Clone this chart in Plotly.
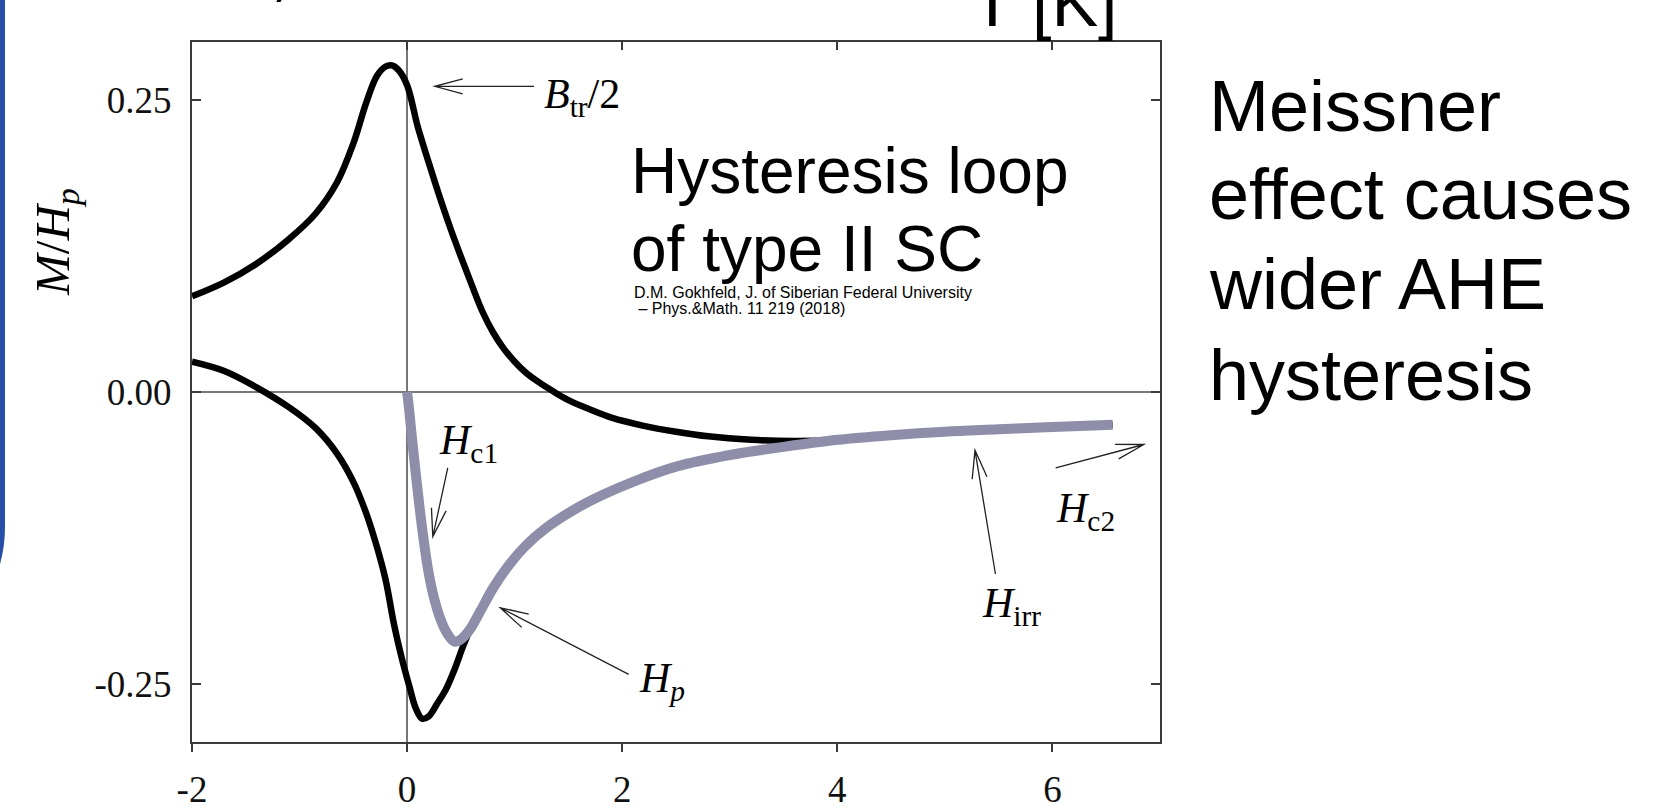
import math
import plotly.graph_objects as go

# ---------------- data ----------------
x_tick_vals = [-2, 0, 2, 4, 6]
x_tick_text = ["-2", "0", "2", "4", "6"]
y_tick_vals = [-0.25, 0.0, 0.25]
y_tick_text = ["-0.25", "0.00", "0.25"]

# descending branch (upper black curve)
h_desc = [-2.0, -1.7, -1.4, -1.1, -0.85, -0.65, -0.5, -0.38, -0.28, -0.2, -0.14, -0.08, 0.0, 0.1, 0.2,
          0.3, 0.4, 0.5, 0.6, 0.7, 0.8, 0.9, 1.0, 1.1, 1.2, 1.35, 1.5, 1.7, 1.9, 2.2, 2.5, 2.8, 3.2, 3.6,
          4.0, 4.5, 5.0, 5.5, 6.0, 6.56]
m_desc = [0.082, 0.094, 0.110, 0.131, 0.153, 0.180, 0.213, 0.248, 0.271, 0.279, 0.280, 0.276, 0.263,
          0.227, 0.197, 0.168, 0.141, 0.116, 0.092, 0.069, 0.051, 0.037, 0.026, 0.017, 0.010, 0.001,
          -0.007, -0.015, -0.022, -0.029, -0.034, -0.038, -0.041, -0.042, -0.041, -0.037, -0.034,
          -0.032, -0.030, -0.028]

# ascending branch (lower black curve)
h_asc = [-2.0, -1.7, -1.4, -1.1, -0.85, -0.65, -0.5, -0.38, -0.28, -0.2, -0.12, -0.05, 0.02, 0.08,
         0.14, 0.2, 0.28, 0.36, 0.44, 0.52, 0.62]
m_asc = [0.026, 0.018, 0.004, -0.013, -0.031, -0.053, -0.077, -0.104, -0.133, -0.161, -0.200, -0.228,
         -0.252, -0.271, -0.280, -0.278, -0.267, -0.255, -0.238, -0.218, -0.196]

# virgin magnetisation curve (grey)
h_virgin = [0.0, 0.02, 0.05, 0.09, 0.14, 0.2, 0.26, 0.32, 0.38, 0.44, 0.5, 0.58, 0.68, 0.8, 0.95, 1.1,
            1.3, 1.55, 1.8, 2.1, 2.5, 3.0, 3.5, 4.0, 4.5, 5.0, 5.5, 6.0, 6.56]
m_virgin = [0.0, -0.016, -0.044, -0.078, -0.117, -0.155, -0.180, -0.197, -0.208, -0.214, -0.212,
            -0.204, -0.188, -0.168, -0.148, -0.132, -0.116, -0.101, -0.089, -0.077, -0.064, -0.054,
            -0.047, -0.041, -0.037, -0.034, -0.032, -0.030, -0.028]

# annotation arrows: (tail, head) in data units
arrow_btr = ((1.18, 0.262), (0.257, 0.262))
arrow_hc1 = ((0.378, -0.065), (0.239, -0.124))
arrow_hp = ((2.06, -0.242), (0.867, -0.185))
arrow_hirr = ((5.47, -0.156), (5.28, -0.050))
arrow_hc2 = ((6.03, -0.065), (6.85, -0.045))

# ---------------- layout geometry ----------------
W, H = 1654, 810
L, R, T, B = 192, 1160, 42, 742
XR = [-2, 7]
YR = [-0.3, 0.3]

SERIF = "Liberation Serif, Times New Roman, serif"
SANS = "Liberation Sans, Arial, sans-serif"
AXC = "#3a3a3a"


def d2p(x, y):
    return (L + (x - XR[0]) / (XR[1] - XR[0]) * (R - L),
            B - (y - YR[0]) / (YR[1] - YR[0]) * (B - T))


def p2d(px, py):
    return (XR[0] + (px - L) / (R - L) * (XR[1] - XR[0]),
            YR[0] + (B - py) / (B - T) * (YR[1] - YR[0]))


def pap(px, py):
    return (px - L) / (R - L), (B - py) / (B - T)


fig = go.Figure()

fig.add_trace(go.Scatter(x=h_desc, y=m_desc, mode="lines",
                         line=dict(color="black", width=6.5, shape="spline", smoothing=1.0),
                         hoverinfo="skip", showlegend=False))
fig.add_trace(go.Scatter(x=h_asc, y=m_asc, mode="lines",
                         line=dict(color="black", width=6.5, shape="spline", smoothing=1.0),
                         hoverinfo="skip", showlegend=False))
fig.add_trace(go.Scatter(x=h_virgin, y=m_virgin, mode="lines",
                         line=dict(color="#8e8eaa", width=10, shape="spline", smoothing=1.0),
                         hoverinfo="skip", showlegend=False))
# empty trace so the top (mirror) axis exists
fig.add_trace(go.Scatter(x=[], y=[], xaxis="x2", showlegend=False, hoverinfo="skip"))

shapes = []


def arrow_shape(tail, head, length=29, half_angle=15):
    tx, ty = d2p(*tail)
    hx, hy = d2p(*head)
    dx, dy = hx - tx, hy - ty
    n = math.hypot(dx, dy)
    ux, uy = dx / n, dy / n
    pts = []
    for s in (1, -1):
        a = math.radians(half_angle) * s
        rx = ux * math.cos(a) - uy * math.sin(a)
        ry = ux * math.sin(a) + uy * math.cos(a)
        pts.append(p2d(hx - length * rx, hy - length * ry))
    (b1x, b1y), (b2x, b2y) = pts
    path = (f"M {tail[0]},{tail[1]} L {head[0]},{head[1]} "
            f"M {b1x},{b1y} L {head[0]},{head[1]} L {b2x},{b2y}")
    return dict(type="path", xref="x", yref="y", path=path,
                line=dict(color="#222", width=1.3), layer="above")


for a in (arrow_btr, arrow_hc1, arrow_hp, arrow_hirr, arrow_hc2):
    shapes.append(arrow_shape(*a))


# blue panel edge on the far left (part of the slide)
def pp(px, py):
    x, y = pap(px, py)
    return f"{x},{y}"


blue_path = ("M " + pp(-60, -20) + " L " + pp(5, -20) + " L " + pp(5, 527) +
             " C " + pp(5, 600) + " " + pp(-50, 659) + " " + pp(-127, 659) +
             " L " + pp(-200, 659) + " Z")
shapes.append(dict(type="path", xref="paper", yref="paper", path=blue_path,
                   fillcolor="#284fa7", line=dict(width=0), layer="above"))

annotations = []


def text_ann(text, left_px, center_px, size, family, color="black", angle=0, xanchor="left"):
    x, y = pap(left_px, center_px)
    return dict(text=text, x=x, y=y, xref="paper", yref="paper", xanchor=xanchor, yanchor="middle",
                showarrow=False, textangle=angle, font=dict(family=family, size=size, color=color))


# slide texts
annotations.append(text_ann("T [K]", 969, 2, 70, SANS))
annotations.append(text_ann(",", 268, -31, 70, SANS))
annotations.append(text_ann("Hysteresis loop", 629, 171, 64, SANS))
annotations.append(text_ann("of type II SC", 629, 249, 64, SANS))
annotations.append(text_ann("D.M. Gokhfeld, J. of Siberian Federal University", 632, 292, 16, SANS))
annotations.append(text_ann(" \u2013 Phys.&amp;Math. 11 219 (2018)", 632, 308, 16, SANS))
for txt, c in (("Meissner", 106), ("effect causes", 194), ("wider AHE", 284), ("hysteresis", 375)):
    annotations.append(text_ann(txt, 1207, c, 72, SANS))

# physics labels
annotations.append(text_ann("<i>B</i><sub>tr</sub>/2", 542, 97, 42, SERIF))
annotations.append(text_ann("<i>H</i><sub>c1</sub>", 437, 443, 42, SERIF))
annotations.append(text_ann("<i>H<sub>p</sub></i>", 637, 681, 42, SERIF))
annotations.append(text_ann("<i>H</i><sub>irr</sub>", 980, 606, 42, SERIF))
annotations.append(text_ann("<i>H</i><sub>c2</sub>", 1054, 511, 42, SERIF))

# y-axis title
annotations.append(text_ann("<i>M</i>/<i>H<sub>p</sub></i>", 55, 242, 49, SERIF, angle=-90, xanchor="center"))

fig.update_layout(
    width=W, height=H,
    margin=dict(l=L, r=W - R, t=T, b=H - B, pad=0, autoexpand=False),
    paper_bgcolor="white", plot_bgcolor="white",
    showlegend=False,
    shapes=shapes,
    annotations=annotations,
    xaxis=dict(range=XR, tickvals=x_tick_vals, ticktext=x_tick_text, ticks="outside", ticklen=8,
               tickwidth=2, tickcolor=AXC, showline=True, linecolor=AXC, linewidth=2, mirror=False,
               zeroline=True, zerolinecolor="#777", zerolinewidth=1.5, showgrid=False, automargin=False,
               tickfont=dict(family=SERIF, size=37, color="#111"), ticklabelstandoff=6,
               fixedrange=True),
    xaxis2=dict(range=XR, overlaying="x", side="top", tickvals=x_tick_vals, ticks="inside", ticklen=8,
                tickwidth=2, tickcolor=AXC, showline=True, linecolor=AXC, linewidth=2, automargin=False,
                showticklabels=False, zeroline=False, showgrid=False, fixedrange=True),
    yaxis=dict(range=YR, tickvals=y_tick_vals, ticktext=y_tick_text, ticks="inside", ticklen=9,
               tickwidth=2, tickcolor=AXC, showline=True, linecolor=AXC, linewidth=2, mirror="ticks",
               zeroline=True, zerolinecolor="#777", zerolinewidth=1.5, showgrid=False, automargin=False,
               tickfont=dict(family=SERIF, size=37, color="#111"), ticklabelstandoff=11,
               fixedrange=True),
)

fig.write_html("out.html")
